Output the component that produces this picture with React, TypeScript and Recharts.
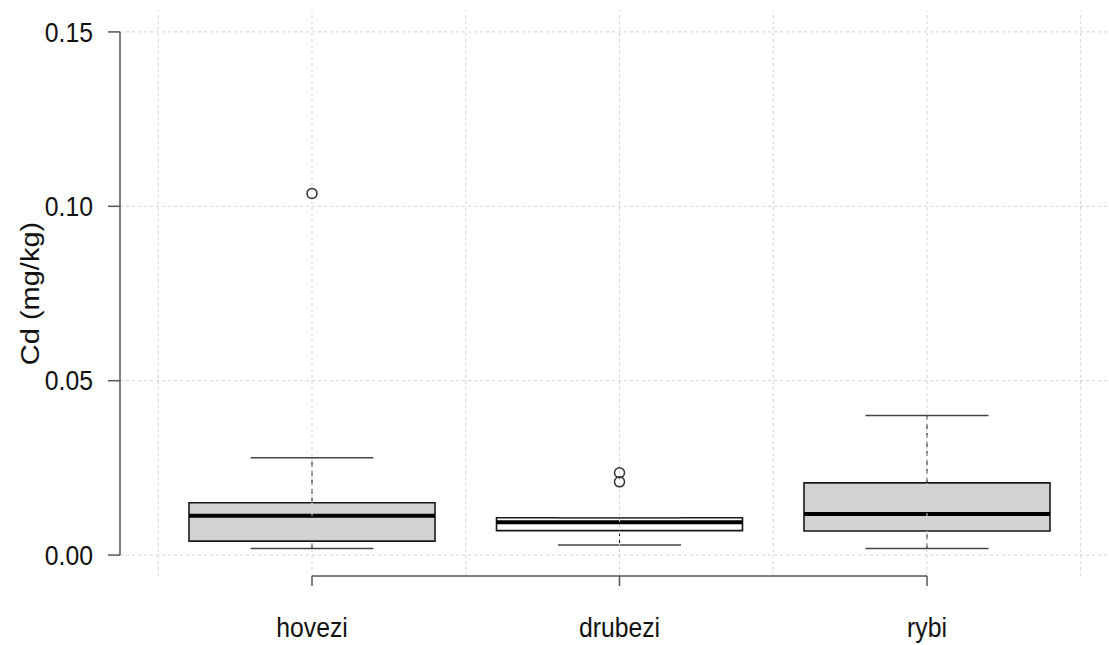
import {
  ComposedChart,
  ReferenceArea,
  ReferenceLine,
  Scatter,
  XAxis,
  YAxis,
} from 'recharts';

const groups = ['hovezi', 'drubezi', 'rybi'];
const lowerWhisker = [0.0019, 0.0029, 0.0019];
const lowerQuartile = [0.004, 0.007, 0.0069];
const medians = [0.0113, 0.0094, 0.0118];
const upperQuartile = [0.015, 0.0107, 0.0207];
const upperWhisker = [0.0279, 0.0107, 0.04];
const boxFills = ['#d3d3d3', '#ffffff', '#d3d3d3'];

const outlierGroup = ['hovezi', 'drubezi', 'drubezi'];
const outlierValues = [0.1037, 0.0236, 0.021];

const yTicks = [0, 0.05, 0.1, 0.15];

// R-style extended ranges around [0.5, n + 0.5] and [0, 0.15]
const xDomain = [0.3756, 3.5919];
const yDomain = [-0.006, 0.156];

const positions = groups.map((_, i) => i + 1);
const gridTicks = [0.5, ...positions.flatMap((p) => [p, p + 0.5])];
const outliers = outlierGroup.map((g, i) => ({
  x: groups.indexOf(g) + 1,
  y: outlierValues[i],
}));

const family = '"Liberation Sans", Arial, sans-serif';
const textColor = '#111';
const axisColor = '#555';
const gridColor = '#d3d3d3';
const boxHalf = 0.4;
const capHalf = 0.2;

// the reference looks slightly squeezed sideways, so text is narrowed a bit
const XTick = (props: any) => (
  <g transform={`translate(${props.x},${props.y})`}>
    <text
      transform="scale(0.9,1)"
      textAnchor="middle"
      dy="0.71em"
      fontFamily={family}
      fontSize={27.5}
      fill={textColor}
    >
      {groups[props.payload.value - 1]}
    </text>
  </g>
);

const YTick = (props: any) => (
  <g transform={`translate(${props.x},${props.y})`}>
    <text
      transform="scale(0.9,1)"
      textAnchor="end"
      dy="0.355em"
      fontFamily={family}
      fontSize={27.5}
      fill={textColor}
    >
      {Number(props.payload.value).toFixed(2)}
    </text>
  </g>
);

const YLabel = (props: any) => {
  const vb = props.viewBox;
  const cx = vb.x + 30;
  const cy = vb.y + vb.height / 2;
  return (
    <g transform={`translate(${cx},${cy}) rotate(-90)`}>
      <text
        transform="scale(1,0.9)"
        textAnchor="middle"
        dy="0.355em"
        fontFamily={family}
        fontSize={29}
        fill={textColor}
      >
        Cd (mg/kg)
      </text>
    </g>
  );
};

export default function App() {
  return (
    <div style={{ position: 'absolute', left: 0, top: 0, background: '#fff' }}>
      <ComposedChart
        width={1109}
        height={645}
        margin={{ top: 11, right: 0, bottom: 0, left: 0 }}
      >
        <XAxis
          type="number"
          dataKey="x"
          domain={xDomain}
          ticks={positions}
          allowDataOverflow
          interval={0}
          height={69}
          axisLine={false}
          tickLine={{ stroke: axisColor, strokeWidth: 1.5 }}
          tickSize={10}
          tickMargin={31}
          tick={<XTick />}
        />
        <YAxis
          type="number"
          dataKey="y"
          domain={yDomain}
          ticks={yTicks}
          allowDataOverflow
          width={120}
          axisLine={false}
          tickLine={{ stroke: axisColor, strokeWidth: 1.5 }}
          tickSize={12}
          tickMargin={15}
          tick={<YTick />}
          label={<YLabel />}
        />

        {yTicks.map((t) => (
          <ReferenceLine key={`hg-${t}`} y={t} stroke={gridColor} strokeDasharray="3 3" />
        ))}

        {positions.map((p, i) => (
          <ReferenceLine
            key={`uw-${p}`}
            segment={[
              { x: p, y: upperQuartile[i] },
              { x: p, y: upperWhisker[i] },
            ]}
            stroke="#000"
            strokeDasharray="5 4"
          />
        ))}
        {positions.map((p, i) => (
          <ReferenceLine
            key={`lw-${p}`}
            segment={[
              { x: p, y: lowerWhisker[i] },
              { x: p, y: lowerQuartile[i] },
            ]}
            stroke="#000"
            strokeDasharray="5 4"
          />
        ))}
        {positions.map((p, i) => (
          <ReferenceLine
            key={`ucap-${p}`}
            segment={[
              { x: p - capHalf, y: upperWhisker[i] },
              { x: p + capHalf, y: upperWhisker[i] },
            ]}
            stroke="#444"
            strokeWidth={1.5}
          />
        ))}
        {positions.map((p, i) => (
          <ReferenceLine
            key={`lcap-${p}`}
            segment={[
              { x: p - capHalf, y: lowerWhisker[i] },
              { x: p + capHalf, y: lowerWhisker[i] },
            ]}
            stroke="#444"
            strokeWidth={1.5}
          />
        ))}
        {positions.map((p, i) => (
          <ReferenceArea
            key={`box-${p}`}
            x1={p - boxHalf}
            x2={p + boxHalf}
            y1={lowerQuartile[i]}
            y2={upperQuartile[i]}
            fill={boxFills[i]}
            fillOpacity={1}
            stroke="#1a1a1a"
            strokeWidth={1.6}
          />
        ))}
        {positions.map((p, i) => (
          <ReferenceLine
            key={`med-${p}`}
            segment={[
              { x: p - boxHalf, y: medians[i] },
              { x: p + boxHalf, y: medians[i] },
            ]}
            stroke="#000"
            strokeWidth={4}
          />
        ))}

        {gridTicks.map((t) => (
          <ReferenceLine key={`vg-${t}`} x={t} stroke={gridColor} strokeDasharray="3 3" />
        ))}

        <ReferenceLine
          segment={[
            { x: xDomain[0], y: yTicks[0] },
            { x: xDomain[0], y: yTicks[yTicks.length - 1] },
          ]}
          stroke={axisColor}
          strokeWidth={1.5}
          ifOverflow="visible"
        />
        <ReferenceLine
          segment={[
            { x: positions[0], y: yDomain[0] },
            { x: positions[positions.length - 1], y: yDomain[0] },
          ]}
          stroke={axisColor}
          strokeWidth={1.5}
          ifOverflow="visible"
        />

        <Scatter
          data={outliers}
          isAnimationActive={false}
          shape={(props: any) => (
            <circle cx={props.cx} cy={props.cy} r={5} fill="none" stroke="#333" strokeWidth={1.5} />
          )}
        />
      </ComposedChart>
    </div>
  );
}
